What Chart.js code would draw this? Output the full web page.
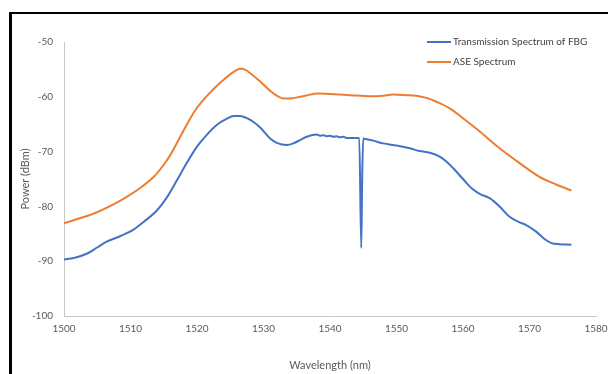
<!DOCTYPE html>
<html>
<head>
<meta charset="utf-8">
<script src="https://cdn.jsdelivr.net/npm/chart.js@4.4.1/dist/chart.umd.min.js"></script>
<style>
  html, body { margin: 0; padding: 0; background: #fff; overflow: hidden; }
  #wrap { position: relative; width: 608px; height: 374px; }
  #frame { position: absolute; left: 9px; top: 12px; width: 620px; height: 400px;
           border-top: 2px solid #000; border-left: 3px solid #000; }
  canvas { position: absolute; left: 0; top: 0; }
</style>
</head>
<body>
<div id="wrap">
  <div id="frame"></div>
  <canvas id="chart" width="608" height="374"></canvas>
</div>
<script>
// Transmission spectrum of the FBG (blue)
var fbgWavelength = [1500, 1501.5, 1503.5, 1505, 1506.5, 1508.5, 1510.4, 1512, 1514, 1515.5,
  1517, 1518.5, 1520, 1521.5, 1523, 1524.5, 1525.5, 1526.5, 1527.5, 1528.5,
  1529.5, 1531, 1532, 1533.5, 1534.5, 1535.5, 1536.5, 1538, 1538.5, 1539,
  1539.5, 1540, 1540.5, 1541, 1541.5, 1542, 1542.5, 1543, 1543.5, 1544.4,
  1544.7, 1544.85, 1545, 1545.3, 1546.5, 1548, 1550, 1552, 1553.5, 1555,
  1556.5, 1557.5, 1558.5, 1560, 1561.3, 1562.5, 1564, 1565.5, 1567, 1568.5,
  1569.5, 1571, 1572.3, 1573.3, 1574.5, 1576.3];
var fbgPower = [-89.7, -89.4, -88.6, -87.5, -86.4, -85.4, -84.3, -82.8, -80.7, -78.3,
  -75.2, -72.0, -69.1, -66.9, -65.1, -64.0, -63.5, -63.5, -63.9, -64.6,
  -65.6, -67.6, -68.4, -68.8, -68.5, -67.9, -67.3, -66.9, -67.1, -67.0,
  -67.2, -67.1, -67.3, -67.2, -67.4, -67.3, -67.5, -67.5, -67.5, -67.5,
  -87.6, -74.0, -67.6, -67.7, -68.0, -68.5, -68.9, -69.4, -69.9, -70.2,
  -70.9, -71.8, -73.0, -75.0, -76.7, -77.7, -78.5, -80.0, -81.9, -82.9,
  -83.4, -84.6, -86.0, -86.7, -86.9, -87.0];

// ASE source spectrum (orange)
var aseWavelength = [1500, 1502, 1504.5, 1507, 1509.5, 1511.5, 1513.5, 1515, 1516, 1517,
  1518, 1519, 1520, 1521, 1522, 1523, 1524, 1525, 1526, 1526.6,
  1527.3, 1528, 1529.5, 1531, 1532, 1533, 1534, 1535.5, 1537, 1538,
  1540, 1543, 1546, 1548, 1549.5, 1551.5, 1553, 1554.5, 1556, 1558,
  1560, 1562.3, 1565.5, 1568.5, 1571.5, 1574, 1576.3];
var asePower = [-83.1, -82.3, -81.3, -79.9, -78.2, -76.6, -74.6, -72.4, -70.6, -68.4,
  -66.1, -63.9, -62.0, -60.5, -59.2, -58.0, -56.9, -55.9, -55.1, -54.9,
  -55.1, -55.7, -57.2, -58.9, -59.8, -60.3, -60.3, -60.0, -59.6, -59.4,
  -59.5, -59.7, -59.9, -59.8, -59.6, -59.7, -59.8, -60.2, -60.9, -62.1,
  -63.9, -66.1, -69.4, -72.1, -74.6, -76.0, -77.1];

var seriesLabels = ['Transmission Spectrum of FBG', 'ASE Spectrum'];
var seriesColors = ['#4472C4', '#ED7D31'];

var fontFamily = 'Lato, "Open Sans", sans-serif';

function toPoints(xs, ys) {
  return xs.map(function (x, i) { return { x: x, y: ys[i] }; });
}

// legend drawn in the top right corner of the plot, stacked vertically
var cornerLegend = {
  id: 'cornerLegend',
  afterDraw: function (chart) {
    var ctx = chart.ctx;
    ctx.save();
    ctx.font = '10px ' + fontFamily;
    ctx.textBaseline = 'middle';
    ctx.textAlign = 'left';
    chart.data.datasets.forEach(function (ds, i) {
      var y = 42 + i * 20;
      ctx.strokeStyle = ds.borderColor;
      ctx.lineWidth = 2;
      ctx.beginPath();
      ctx.moveTo(427, y);
      ctx.lineTo(451, y);
      ctx.stroke();
      ctx.fillStyle = '#404040';
      ctx.fillText(ds.label, 453, y);
    });
    ctx.restore();
  }
};

new Chart(document.getElementById('chart'), {
  type: 'line',
  data: {
    datasets: [
      {
        label: seriesLabels[0],
        data: toPoints(fbgWavelength, fbgPower),
        borderColor: seriesColors[0],
        backgroundColor: seriesColors[0],
        borderWidth: 2,
        pointRadius: 0,
        cubicInterpolationMode: 'monotone'
      },
      {
        label: seriesLabels[1],
        data: toPoints(aseWavelength, asePower),
        borderColor: seriesColors[1],
        backgroundColor: seriesColors[1],
        borderWidth: 2,
        pointRadius: 0,
        cubicInterpolationMode: 'monotone'
      }
    ]
  },
  options: {
    responsive: false,
    animation: false,
    layout: { padding: { top: 42, right: 0, bottom: 0, left: 0 } },
    plugins: {
      legend: { display: false },
      tooltip: { enabled: false }
    },
    scales: {
      x: {
        type: 'linear',
        min: 1500,
        max: 1580,
        grid: { display: false, drawTicks: false },
        border: { display: true, color: '#c8c8c8', width: 1 },
        ticks: { stepSize: 10, padding: 7, maxRotation: 0, color: '#595959',
                 font: { family: fontFamily, size: 10 },
                 callback: function (v) { return String(v); } },
        title: { display: true, text: 'Wavelength (nm)', color: '#595959',
                 font: { family: fontFamily, size: 11 }, padding: { top: 0, bottom: 2 } },
        afterFit: function (scale) {
          scale.height = 58;
          scale.paddingLeft = 0;
          scale.paddingRight = 12;
        }
      },
      y: {
        min: -100,
        max: -50,
        grid: { display: false, drawTicks: false },
        border: { display: true, color: '#c8c8c8', width: 1 },
        ticks: { stepSize: 10, padding: 11, color: '#595959',
                 font: { family: fontFamily, size: 10 } },
        title: { display: true, text: 'Power (dBm)', color: '#595959',
                 font: { family: fontFamily, size: 11 }, padding: { top: 19, bottom: 0 } },
        afterFit: function (scale) { scale.width = 64; }
      }
    }
  },
  plugins: [cornerLegend]
});
</script>
</body>
</html>
